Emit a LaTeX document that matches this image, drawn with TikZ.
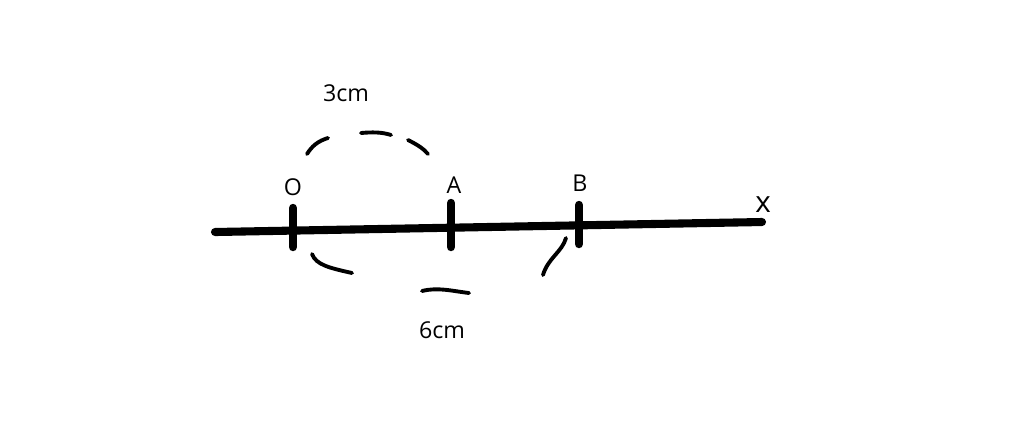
\documentclass[tikz,border=0pt]{standalone}
\usepackage{fontspec}
\setmainfont{Open Sans}
\usetikzlibrary{calc}
\tikzset{
	axisline/.style={line width=2.3pt, line cap=round},
	tickline/.style={line width=2.4pt, line cap=round},
	handarc/.style={line width=1.1pt, line cap=round},
	lbl/.style={font=\fontsize{6.6}{8}\selectfont, inner sep=0pt}
}

\begin{document}
\begin{tikzpicture}[x=0.01cm, y=-0.01cm]
			%%%%% START %%%%%
			\useasboundingbox (0, 0) rectangle (1024, 426);
			
			\coordinate (axisL) at (215, 232);
			\coordinate (axisR) at (762, 222);
			\draw[axisline] (axisL) -- (axisR);
			
			\draw[tickline] (293, 208) -- (293, 247);
			\draw[tickline] (451, 203) -- (451, 247);
			\draw[tickline] (579, 205) -- (579, 244);
			
			\node[lbl] (labelO) at (293, 187) {O};
			\node[lbl] (labelA) at (454, 185) {A};
			\node[lbl] (labelB) at (580, 183) {B};
			\node[lbl, font=\fontsize{8.4}{10}\selectfont] (labelX) at (763, 205) {x};
			
			\node[lbl] (dist3) at (346, 93) {3cm};
			\node[lbl] (dist6) at (442, 330) {6cm};
			
			\draw[handarc] (307, 154) .. controls (312, 146) and (318, 141) .. (328, 138);
			\draw[handarc] (361, 133) .. controls (372, 132) and (382, 132) .. (391, 135);
			\draw[handarc] (408, 140) .. controls (416, 144) and (423, 148) .. (428, 154);
			
			\draw[handarc] (312, 254) .. controls (316, 265) and (330, 268) .. (352, 273);
			\draw[handarc] (422, 291) .. controls (438, 287) and (452, 291) .. (469, 293);
			\draw[handarc] (543, 275) .. controls (548, 258) and (562, 252) .. (566, 238);
			
			%%%%% END %%%%%
		\end{tikzpicture}
\end{document}
